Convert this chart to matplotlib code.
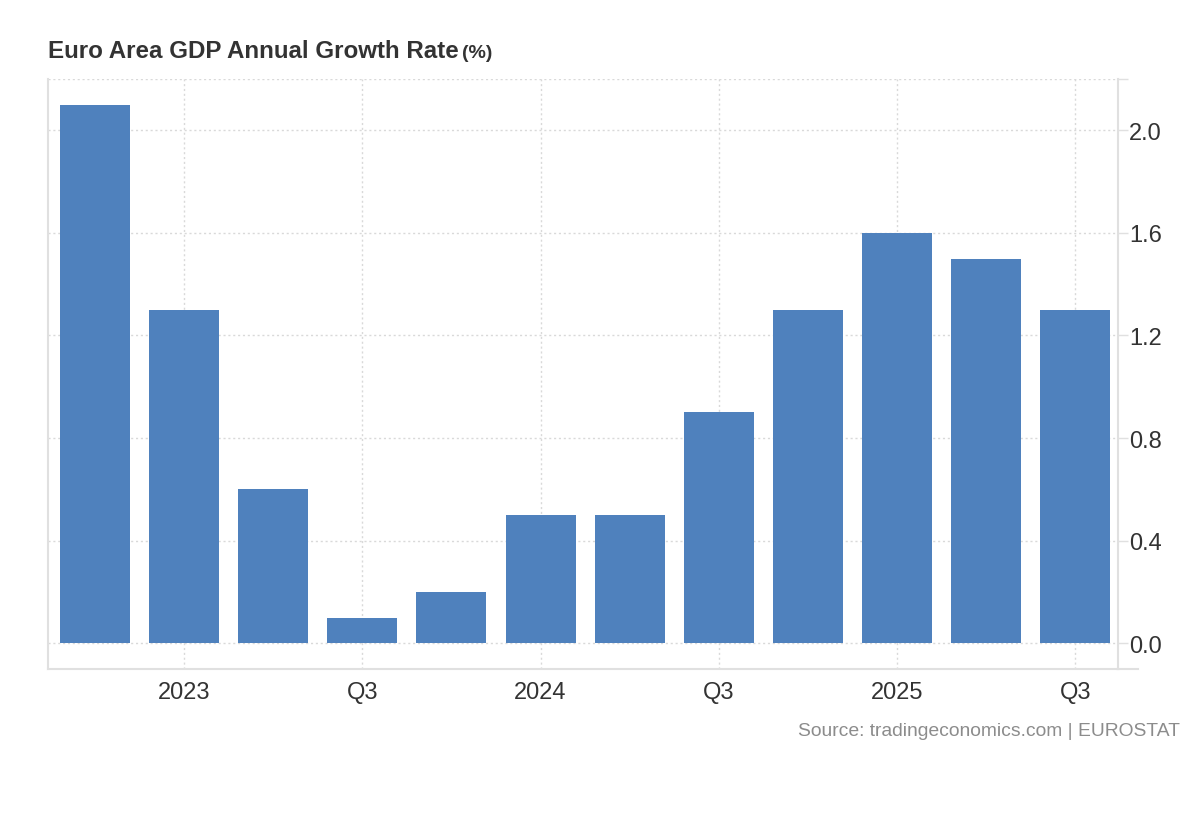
import matplotlib.pyplot as plt
from matplotlib.lines import Line2D

plt.rcParams['font.family'] = ['Liberation Sans', 'DejaVu Sans']

# quarterly annual growth, 2022 Q4 .. 2025 Q3
quarters = ['2022 Q4', '2023 Q1', '2023 Q2', '2023 Q3', '2023 Q4', '2024 Q1',
            '2024 Q2', '2024 Q3', '2024 Q4', '2025 Q1', '2025 Q2', '2025 Q3']
growth = [2.1, 1.3, 0.6, 0.1, 0.2, 0.5, 0.5, 0.9, 1.3, 1.6, 1.5, 1.3]
tick_idx = [1, 3, 5, 7, 9, 11]
tick_labels = ['2023', 'Q3', '2024', 'Q3', '2025', 'Q3']
y_ticks = [0.0, 0.4, 0.8, 1.2, 1.6, 2.0, 2.2]
y_labels = ['0.0', '0.4', '0.8', '1.2', '1.6', '2.0', '']

bar_color = '#4f81bd'
grid_color = '#d9d9d9'
spine_color = '#e0e0e0'

fig = plt.figure(figsize=(12, 8.2), dpi=100)
ax = fig.add_axes([0.04, 0.183, 0.8917, 0.7195])

x = list(range(len(quarters)))
ax.bar(x, growth, width=0.786, color=bar_color, zorder=3)

ax.set_xlim(-0.527, 11.48)
ax.set_ylim(-0.1, 2.2)

ax.set_xticks(tick_idx)
ax.set_xticklabels(tick_labels)
ax.set_yticks(y_ticks)
ax.set_yticklabels(y_labels)
ax.yaxis.tick_right()

ax.grid(True, color=grid_color, linestyle=(0, (1.5, 2)), linewidth=1, zorder=0)

ax.spines['top'].set_visible(False)
for side in ['left', 'right', 'bottom']:
    ax.spines[side].set_color(spine_color)
    ax.spines[side].set_linewidth(1.5)

ax.tick_params(axis='x', length=0, pad=9, labelsize=17, labelcolor='#333333')
ax.tick_params(axis='y', length=7, width=1, color=spine_color, pad=1,
               labelsize=17, labelcolor='#333333')

# bottom axis line runs a little past the right spine
fig.add_artist(Line2D([1118 / 1200, 1138 / 1200], [1 - 670 / 820, 1 - 670 / 820],
                      color=spine_color, linewidth=1.5))

fig.text(48 / 1200, 1 - 52 / 820, 'Euro Area GDP Annual Growth Rate', fontsize=17.4,
         fontweight='bold', color='#333333', ha='left', va='center')
fig.text(462 / 1200, 1 - 53 / 820, '(%)', fontsize=14, fontweight='bold',
         color='#333333', ha='left', va='center')

fig.text(1180 / 1200, 1 - 732 / 820, 'Source: tradingeconomics.com | EUROSTAT',
         fontsize=13.9, color='#8c8c8c', ha='right', va='center')

fig.savefig('out.png', dpi=100)
